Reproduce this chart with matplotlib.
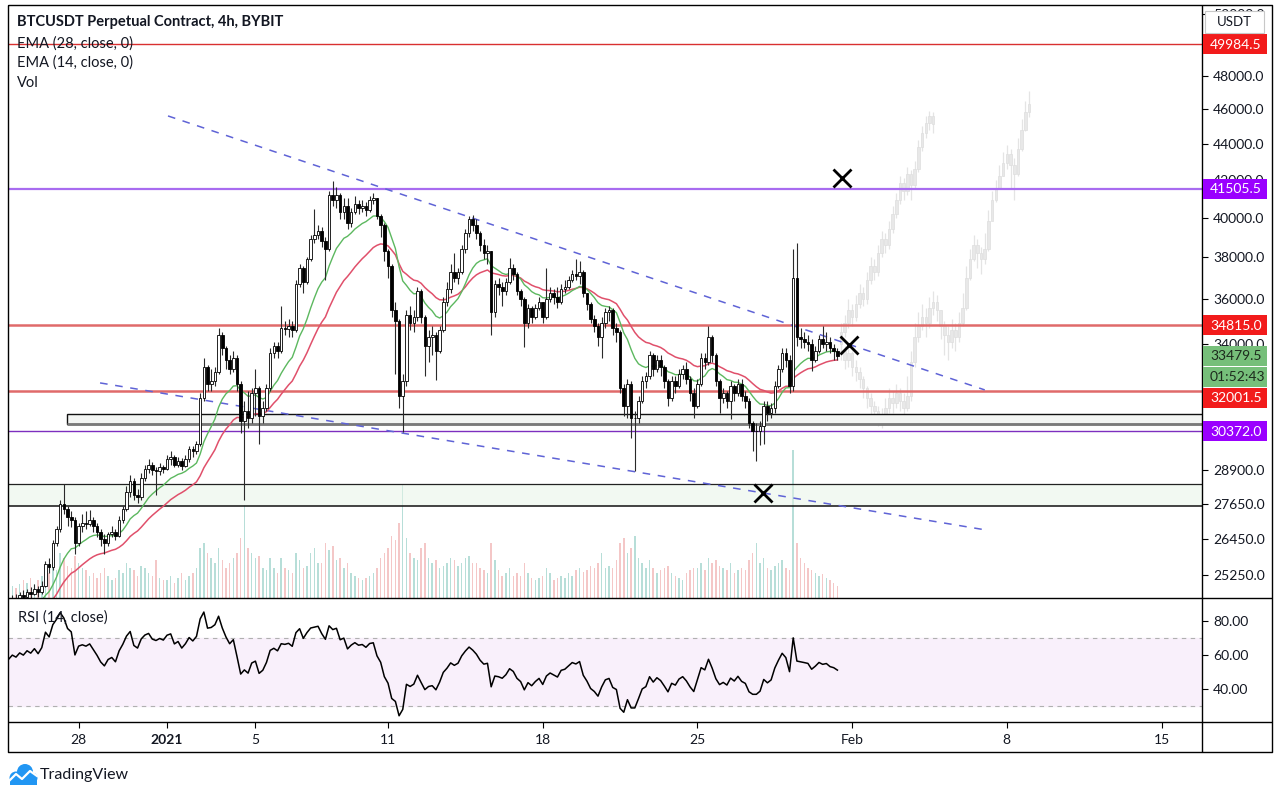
import numpy as np
import pandas as pd
import matplotlib
matplotlib.use("Agg")
import matplotlib.pyplot as plt
from matplotlib.patches import Rectangle, Circle

plt.rcParams['font.family'] = ['Lato', 'DejaVu Sans']

# ---------------- DATA ----------------
# 4h candles, time in days relative to 2021-01-01 00:00 ; first candle 2020-12-20 00:00
start_day = -12
# warm-up (Dec 20 - Dec 24)
warm_close = [23900, 23700, 23600, 23800, 23500, 23450,
              23200, 23500, 23300, 22900, 22800, 22750,
              23000, 23100, 23300, 23500, 23700, 23800,
              23600, 23800, 24000, 23500, 23300, 23250,
              23400, 23600, 23800, 24000, 24200, 24350]
warm_high = [24100, 24000, 23800, 23950, 23850, 23600,
             23500, 23650, 23600, 23350, 23000, 22950,
             23100, 23250, 23400, 23650, 23800, 23950,
             23850, 23950, 24100, 24050, 23550, 23400,
             23500, 23700, 23900, 24100, 24300, 24450]
warm_low = [23600, 23500, 23400, 23550, 23350, 23300,
            23000, 23150, 23200, 22800, 22600, 22550,
            22700, 22950, 23050, 23250, 23450, 23600,
            23500, 23550, 23750, 23400, 23150, 23100,
            23150, 23350, 23550, 23750, 23950, 24150]
warm_vol = [15] * 30

# visible candles Dec 25 -> Jan 31
close_v = [
    24500, 24450, 24600, 24550, 24700, 24650,   # Dec 25
    24800, 24700, 24900, 25600, 25500, 26300,   # Dec 26
    26800, 27650, 27500, 27200, 27100, 26300,   # Dec 27
    26900, 27000, 26950, 27100, 26900, 26700,   # Dec 28
    26450, 26300, 26600, 26700, 26550, 27100,   # Dec 29
    27500, 28100, 28500, 28000, 27900, 28600,   # Dec 30
    28950, 29100, 28900, 28850, 29000, 28950,   # Dec 31
    29300, 29400, 29100, 29250, 29050, 29300,   # Jan 1
    29700, 29600, 29900, 31700, 33000, 32300,   # Jan 2
    32400, 32800, 34400, 33800, 33300, 32900,   # Jan 3
    33400, 32300, 30800, 31200, 30900, 31900,   # Jan 4
    32100, 31000, 31300, 32100, 33600, 33900,   # Jan 5
    33700, 34700, 34650, 34800, 34600, 36700,   # Jan 6
    37500, 36800, 37900, 38900, 39100, 39300,   # Jan 7
    38800, 38400, 41200, 40900, 41200, 40300,   # Jan 8
    40600, 39700, 40300, 40700, 40500, 40600,   # Jan 9
    40400, 40900, 41000, 40100, 39600, 38300,   # Jan 10
    37600, 35500, 35000, 31800, 32400, 35300,   # Jan 11
    34900, 35200, 36400, 35200, 33900, 34300,   # Jan 12
    34400, 33700, 34600, 35900, 36500, 37300,   # Jan 13
    37000, 37300, 38400, 39200, 39900, 39600,   # Jan 14
    39200, 38600, 38200, 38300, 35400, 36700,   # Jan 15
    36600, 36400, 36800, 37500, 37200, 36400,   # Jan 16
    36000, 34900, 35600, 35200, 35600, 35900,   # Jan 17
    35200, 36000, 36300, 36100, 35900, 36500,   # Jan 18
    36600, 36900, 37200, 37100, 37300, 36300,   # Jan 19
    35800, 35100, 34800, 34300, 34900, 35400,   # Jan 20
    35500, 34700, 34500, 32100, 31400, 32300,   # Jan 21
    30900, 30900, 31600, 32400, 32600, 33500,   # Jan 22
    32900, 33300, 33000, 32400, 31700, 32400,   # Jan 23
    32200, 32700, 32900, 32500, 31900, 31400,   # Jan 24
    32300, 33400, 33200, 34300, 33500, 32400,   # Jan 25
    31700, 31900, 31600, 32200, 31900, 32300,   # Jan 26
    31800, 31600, 30700, 30400, 30400, 30600,   # Jan 27
    31400, 31100, 31300, 32200, 32900, 33600,   # Jan 28
    33300, 32200, 37000, 34300, 34200, 34100,   # Jan 29
    34000, 33300, 33700, 34200, 34000, 34100,   # Jan 30
    33800, 33700, 33479.5]                      # Jan 31
high_v = [
    24600, 24650, 24700, 24750, 24800, 24850,
    24950, 24900, 25050, 25700, 25800, 26400,
    26900, 27800, 28400, 27600, 27400, 27200,
    27000, 27300, 27400, 27450, 27200, 27000,
    26800, 26600, 26700, 26900, 26800, 27250,
    27600, 28300, 28700, 28600, 28200, 28800,
    29100, 29300, 29200, 29000, 29150, 29100,
    29450, 29600, 29450, 29400, 29350, 29450,
    29800, 29800, 30000, 31900, 33400, 33100,
    32900, 33000, 34700, 34500, 33900, 33500,
    33700, 33500, 32400, 31600, 32000, 32100,
    32900, 32200, 31600, 32300, 33800, 34100,
    34100, 35700, 35000, 35100, 35000, 36900,
    37700, 37600, 38000, 39100, 40450, 39600,
    39500, 39000, 41400, 41950, 41600, 41300,
    41000, 41000, 40500, 41100, 40900, 40900,
    40800, 41100, 41300, 41000, 40200, 39700,
    38400, 37700, 35900, 35100, 32700, 35500,
    35700, 35500, 36600, 36500, 35300, 34600,
    34800, 34500, 34800, 36100, 36800, 37700,
    38200, 37500, 38600, 39400, 40100, 40150,
    39900, 39300, 38900, 38600, 38300, 36900,
    37000, 36800, 37000, 37950, 37700, 37300,
    36500, 36100, 35800, 35700, 35800, 36100,
    35900, 37500, 36600, 36500, 36600, 36700,
    36900, 37100, 37400, 37900, 37800, 37400,
    36300, 35900, 35300, 34900, 35200, 35600,
    35700, 35600, 34900, 34600, 32300, 32500,
    32400, 31200, 31800, 32600, 32800, 33700,
    33600, 33500, 33500, 33100, 32500, 32600,
    32600, 32900, 33100, 33200, 32600, 32100,
    32500, 33600, 33600, 34800, 34400, 33600,
    32500, 32100, 32000, 32400, 32300, 32500,
    32500, 32000, 31700, 30800, 30700, 30800,
    31600, 31600, 31500, 32400, 33100, 33800,
    33800, 33500, 38400, 38700, 34700, 34500,
    34400, 34200, 33900, 34400, 34800, 34500,
    34300, 34000, 33800]
low_v = [
    24200, 24300, 24350, 24400, 24450, 24500,
    24600, 24550, 24650, 24850, 25300, 25400,
    26200, 26700, 27300, 26900, 26850, 25950,
    26200, 26700, 26800, 26900, 26700, 26500,
    26200, 25950, 26200, 26500, 26400, 26500,
    27000, 27400, 27900, 27800, 27700, 27800,
    28500, 28800, 28700, 28000, 28700, 28800,
    28900, 29100, 29000, 29000, 28900, 29000,
    29200, 29400, 29500, 29800, 31600, 32000,
    32000, 32200, 32700, 33500, 32900, 32700,
    32800, 32000, 30300, 27800, 30500, 30700,
    31000, 29900, 30700, 31200, 32000, 33400,
    33400, 33600, 34400, 34300, 34300, 34500,
    36600, 36300, 36700, 37800, 38700, 38900,
    38500, 36900, 38300, 40600, 40500, 39900,
    39900, 39400, 39500, 40200, 40200, 40300,
    40100, 40300, 40700, 39900, 39000, 37800,
    37000, 35200, 32700, 31300, 30350, 32200,
    34600, 34500, 35000, 34900, 32600, 33200,
    33500, 32450, 33600, 34500, 35700, 36300,
    36800, 36700, 37200, 38200, 39000, 39300,
    38900, 38300, 37900, 37700, 34400, 35200,
    36200, 35700, 36200, 36700, 36900, 36200,
    35700, 33850, 34700, 34900, 35100, 35500,
    34900, 35100, 35900, 35800, 35600, 35800,
    36300, 36500, 36800, 36900, 36700, 36100,
    35500, 34900, 34500, 33900, 33400, 34700,
    35000, 34400, 34100, 31900, 31000, 30900,
    30100, 28850, 30700, 31500, 32100, 32500,
    32600, 32800, 32600, 32100, 31400, 31600,
    31900, 32100, 32500, 32300, 31600, 30900,
    31300, 32200, 32900, 33100, 33200, 32200,
    31100, 31500, 31300, 30850, 31600, 31800,
    31600, 31300, 30500, 29600, 29250, 29850,
    29900, 30800, 30900, 31100, 32100, 32800,
    33000, 31900, 32000, 33900, 33800, 33800,
    33700, 32850, 33200, 33600, 33800, 33700,
    33600, 33300, 33300]
vol_v = [
    12, 10, 14, 18, 15, 20,
    14, 18, 22, 30, 25, 35,
    28, 45, 40, 32, 30, 42,
    35, 30, 28, 22, 25, 20,
    25, 30, 22, 18, 20, 28,
    25, 35, 30, 28, 22, 32,
    30, 25, 22, 38, 20, 18,
    18, 22, 15, 20, 25, 18,
    22, 25, 30, 50, 55, 45,
    40, 35, 50, 38, 30, 35,
    40, 45, 60, 93, 50, 45,
    40, 42, 30, 28, 40, 30,
    25, 40, 30, 28, 25, 45,
    38, 30, 32, 45, 50, 35,
    35, 55, 48, 52, 38, 40,
    30, 35, 25, 22, 20, 18,
    20, 22, 25, 30, 40, 45,
    50, 62, 58, 75, 113, 60,
    45, 40, 38, 50, 55, 40,
    35, 38, 30, 32, 35, 40,
    38, 32, 35, 40, 42, 35,
    35, 30, 28, 25, 55, 38,
    28, 22, 25, 30, 22, 25,
    22, 35, 25, 20, 18, 20,
    22, 30, 25, 18, 20, 22,
    20, 25, 22, 28, 30, 26,
    28, 32, 30, 35, 45, 30,
    32, 30, 38, 55, 60, 45,
    50, 62, 40, 35, 30, 38,
    30, 25, 28, 30, 32, 25,
    22, 20, 18, 25, 28, 30,
    30, 35, 28, 40, 35, 38,
    32, 30, 28, 35, 25, 28,
    30, 28, 38, 45, 55, 35,
    40, 30, 28, 32, 35, 38,
    30, 28, 148, 55, 40, 35,
    30, 28, 25, 22, 24, 20,
    18, 15, 12]

# projected "bars pattern" ghosts (both start 2021-01-31 12:00)
ghost_start = 30.5
ghostA_open = 34000
ghostA_close = [34500, 34900, 35500, 35200, 35800, 36300, 36000, 36900, 37600, 37300, 38200, 38900, 38600,
                39400, 40200, 40900, 41800, 41400, 42300, 41700, 42600, 43800, 44600, 45200, 45600, 45100]
ghostA_high = [34900, 35300, 36000, 35800, 36200, 36700, 36600, 37300, 38000, 37900, 38600, 39300, 39200,
               39800, 40600, 41300, 42200, 42100, 42700, 42500, 43000, 44200, 45000, 45600, 45900, 45800]
ghostA_low = [33800, 34300, 34700, 34800, 35000, 35600, 35700, 35800, 36700, 36900, 37100, 38000, 38200,
              38400, 39200, 40000, 40700, 40900, 41200, 40900, 41500, 42400, 43600, 44300, 44800, 44600]
ghostB_open = 33600
ghostB_close = [33700, 33300, 33600, 33000, 32800, 32500, 32100, 31700, 31400, 31200,
                31000, 30900, 31300, 31700, 31500, 31900, 31600, 31300, 31800, 33200,
                34300, 34800, 35200, 34900, 35600, 35900, 35500, 34800, 34400, 34100,
                34600, 34300, 34900, 35600, 37000, 37900, 38600, 38200, 37900, 38400,
                39800, 40900, 41500, 42200, 42900, 43400, 42800, 42300, 43700, 44800,
                45800, 46300]
ghostB_high = [34200, 33900, 34000, 33700, 33300, 33000, 32600, 32200, 31900, 31600,
               31400, 31300, 31700, 32100, 32000, 32300, 32100, 31900, 32600, 33700,
               34900, 35400, 35800, 35600, 36100, 36400, 36200, 35500, 35000, 34800,
               35100, 34900, 35400, 36300, 37600, 38400, 39100, 38900, 38500, 39200,
               40400, 41400, 42000, 42800, 43500, 43900, 43700, 43200, 44300, 45400,
               46500, 47100]
ghostB_low = [33300, 32900, 33000, 32600, 32400, 32100, 31700, 31300, 31000, 30800,
              30600, 30500, 30800, 31100, 31100, 31300, 31200, 30900, 31200, 31600,
              33000, 34100, 34600, 34300, 34700, 35300, 35000, 34200, 33500, 33300,
              33800, 33700, 34100, 34800, 35500, 36900, 37800, 37500, 37200, 37700,
              38300, 39900, 40800, 41500, 42200, 42600, 41500, 40900, 42200, 43600,
              44700, 45500]

# horizontal levels
level_prices = [49984.5, 41505.5, 34815.0, 32001.5, 30372.0]
level_labels = ['49984.5', '41505.5', '34815.0', '32001.5', '30372.0']
level_colors = ['#d93030', '#a86cf0', '#e06a6a', '#e06a6a', '#7d2fbf']
level_widths = [1.0, 1.6, 1.8, 1.8, 1.0]
label_bg = ['#f21b1b', '#9a00ff', '#f21b1b', '#f21b1b', '#9a00ff']
current_price = 33479.5
countdown = '01:52:43'

# zones
zone1 = (-4.52, 30680, 31080)      # grey box (start day, low, high)
zone2 = (27580, 28390)             # green band (low, high)

# trend lines (day, price)
trend_upper = ([0.045, 37.0], [45590, 32040])
trend_lower = ([-3.03, 37.0], [32330, 26760])
x_marks_day = [30.54, 30.86, 26.97]
x_marks_price = [42090, 33950, 28060]

price_ticks = [25250, 26450, 27650, 28900, 34000, 36000, 38000, 40000, 42000, 44000, 46000, 48000, 52000]
rsi_ticks = [40, 60, 80]
time_tick_days = [-4, 0, 4, 10, 17, 24, 31, 38, 45]
time_tick_labels = ['28', '2021', '5', '11', '18', '25', 'Feb', '8', '15']

# ---------------- PREP ----------------
close = np.array(warm_close + close_v, dtype=float)
high = np.array(warm_high + high_v, dtype=float)
low = np.array(warm_low + low_v, dtype=float)
vol = np.array(warm_vol + vol_v, dtype=float)
openp = np.concatenate([[23950.0], close[:-1]])
n = len(close)
t = start_day + np.arange(n) / 6.0

s = pd.Series(close)
ema14 = s.ewm(span=14, adjust=False).mean().values
ema28 = s.ewm(span=28, adjust=False).mean().values
dlt = s.diff()
up = dlt.clip(lower=0).ewm(alpha=1/14, adjust=False).mean()
dn = (-dlt.clip(upper=0)).ewm(alpha=1/14, adjust=False).mean()
rsi = (100 - 100 / (1 + up / dn)).values

W, H = 1280, 796
fig = plt.figure(figsize=(W / 100, H / 100), dpi=100)
fig.patch.set_facecolor('white')


def fr(x0, y0, x1, y1):
    return [x0 / W, 1 - y1 / H, (x1 - x0) / W, (y1 - y0) / H]


XL = (-7.195, 46.83)
ax_vol = fig.add_axes(fr(8, 5, 1202, 598))
ax = fig.add_axes(fr(8, 5, 1202, 598))
ax_rsi = fig.add_axes(fr(8, 598, 1202, 722))
ax.patch.set_visible(False)

# volume
cw = 0.7 / 6
upmask = close >= openp
ax_vol.bar(t, vol, width=0.4 / 6, color=np.where(upmask, '#b7ded8', '#f4c7c7'), linewidth=0)
ax_vol.set_xlim(*XL)
ax_vol.set_ylim(0, vol.max() * 4.0)
ax_vol.axis('off')

# price pane
ax.set_yscale('log')
ax.set_xlim(*XL)
ax.set_ylim(24510, 52590)

for p, c, lw in zip(level_prices, level_colors, level_widths):
    ax.axhline(p, color=c, lw=lw, zorder=1.2)

ax.add_patch(Rectangle((-20, zone2[0]), 100, zone2[1] - zone2[0], fc=(0.91, 0.96, 0.91, 0.55), ec='none', zorder=1))
ax.axhline(zone2[1], color='#222222', lw=0.9, zorder=1.3)
ax.axhline(zone2[0], color='#111111', lw=1.1, zorder=1.3)
ax.add_patch(Rectangle((zone1[0], zone1[1]), 100, zone1[2] - zone1[1], fc='#f3f5f3', ec='#111111', lw=1.0, zorder=1.1))
ax.hlines(zone1[1], zone1[0], 100, color='#7a7a7a', lw=2.0, zorder=1.3)

# ghosts
for go, gc, gh, gl in [(ghostA_open, ghostA_close, ghostA_high, ghostA_low),
                       (ghostB_open, ghostB_close, ghostB_high, ghostB_low)]:
    gc = np.array(gc, float)
    gop = np.concatenate([[go], gc[:-1]])
    gt = ghost_start + np.arange(len(gc)) / 6.0
    ax.vlines(gt, gl, gh, color='#e4e4e4', lw=0.9, zorder=0.9)
    ax.bar(gt, np.abs(gc - gop), bottom=np.minimum(gc, gop), width=cw, color='#e8e8e8',
           edgecolor='#dedede', linewidth=0.5, zorder=0.95)

ax.plot(trend_upper[0], trend_upper[1], color='#5f63d6', lw=1.1, ls=(0, (5, 5)), zorder=2)
ax.plot(trend_lower[0], trend_lower[1], color='#5f63d6', lw=1.1, ls=(0, (5, 5)), zorder=2)

ax.plot(t, ema28, color='#e0506b', lw=1.1, zorder=3)
ax.plot(t, ema14, color='#5cb85f', lw=1.0, zorder=3)

ax.vlines(t, low, high, color='#2a2a2a', lw=0.8, zorder=4)
ax.bar(t, np.maximum(np.abs(close - openp), 1), bottom=np.minimum(close, openp), width=cw,
       color=np.where(upmask, 'white', 'black'), edgecolor='black', linewidth=0.6, zorder=5)

ax.plot(x_marks_day, x_marks_price, ls='none', marker='x', ms=13, mew=2.0, color='black', zorder=6)

ax.yaxis.set_major_locator(matplotlib.ticker.FixedLocator(price_ticks))
ax.yaxis.set_minor_locator(matplotlib.ticker.NullLocator())
ax.set_yticklabels([f'{v:.1f}' for v in price_ticks])
ax.tick_params(axis='y', which='both', left=False, labelleft=False, right=True, labelright=True,
               direction='out', length=4, width=0.8, pad=4, labelsize=10, labelcolor='#131722')
ax.tick_params(axis='x', bottom=False, labelbottom=False)
for sp in ax.spines.values():
    sp.set_visible(False)

# RSI pane
ax_rsi.set_xlim(*XL)
ax_rsi.set_ylim(20.6, 93.5)
ax_rsi.axhspan(30, 70, color='#f9f0fb', zorder=0)
ax_rsi.axhline(70, color='#b0b0b0', lw=0.8, ls=(0, (4, 4)))
ax_rsi.axhline(30, color='#b0b0b0', lw=0.8, ls=(0, (4, 4)))
ax_rsi.plot(t, rsi, color='black', lw=1.1)
ax_rsi.set_yticks(rsi_ticks)
ax_rsi.set_yticklabels([f'{v:.2f}' for v in rsi_ticks])
ax_rsi.set_xticks(time_tick_days)
ax_rsi.set_xticklabels(time_tick_labels)
ax_rsi.get_xticklabels()[1].set_fontweight('bold')
ax_rsi.tick_params(axis='y', left=False, labelleft=False, right=True, labelright=True,
                   direction='out', length=4, width=0.8, pad=4, labelsize=10, labelcolor='#131722')
ax_rsi.tick_params(axis='x', direction='out', length=4, width=0.8, pad=5, labelsize=10, labelcolor='#131722')
for sp in ax_rsi.spines.values():
    sp.set_visible(False)

# ---------------- OVERLAY (frame, labels, logo) ----------------
ov = fig.add_axes([0, 0, 1, 1])
ov.set_xlim(0, W)
ov.set_ylim(H, 0)
ov.axis('off')
ov.patch.set_alpha(0)
ov.set_zorder(10)


def ypix(p):
    return H - ax.transData.transform((0, p))[1]


kw = dict(color='black', lw=1.0, solid_capstyle='butt')
ov.plot([8, 1272, 1272, 8, 8], [5, 5, 752, 752, 5], **kw)
ov.plot([8, 1272], [598, 598], **kw)
ov.plot([8, 1272], [722, 722], **kw)
ov.plot([1202, 1202], [5, 752], **kw)

BX0, BX1, BH = 1202.5, 1267, 20


def label_box(yc, text, bg, fg, fs=10):
    ov.add_patch(Rectangle((BX0, yc - BH / 2), BX1 - BX0, BH, fc=bg, ec='none', zorder=5))
    ov.text(1210, yc + 0.5, text, color=fg, fontsize=fs, va='center', ha='left', zorder=6)


# current price + countdown
yc_cur = ypix(current_price)
label_box(yc_cur, f'{current_price:.1f}', '#76bf7a', '#1d2a1d')
label_box(yc_cur + BH + 1, countdown, '#76bf7a', '#1d2a1d')
occupied_bottom = yc_cur + 1.5 * BH + 1
for p, lab, bg in zip(level_prices, level_labels, label_bg):
    yc = ypix(p)
    if yc > yc_cur and yc - BH / 2 < occupied_bottom + 1:
        yc = occupied_bottom + 1 + BH / 2
    label_box(yc, lab, bg, 'white')

# USDT box
ov.add_patch(Rectangle((1205, 11), 59, 22, fc='white', ec='#c8c8c8', lw=0.8, zorder=5))
ov.text(1234.5, 22.5, 'USDT', fontsize=9.5, ha='center', va='center', color='#131722', zorder=6)

# legends
ov.text(17, 22, 'BTCUSDT Perpetual Contract, 4h, BYBIT', fontsize=10.5, fontweight='bold',
        color='#131722', va='center', ha='left')
ov.text(17, 44, 'EMA (28, close, 0)', fontsize=10.5, color='#131722', va='center', ha='left')
ov.text(17, 63, 'EMA (14, close, 0)', fontsize=10.5, color='#131722', va='center', ha='left')
ov.text(17, 83, 'Vol', fontsize=10.5, color='#131722', va='center', ha='left')
ov.text(18, 618, 'RSI (14, close)', fontsize=10.5, color='#131722', va='center', ha='left')

# TradingView logo
blue = '#2196f3'
for cx, cy, r in [(16, 778, 6.5), (25, 772, 8), (32, 778, 5.5)]:
    ov.add_patch(Circle((cx, cy), r, fc=blue, ec='none'))
ov.add_patch(Rectangle((10, 777), 27, 7.5, fc=blue, ec='none'))
ov.plot([9, 16, 22, 30, 37], [781, 774, 779, 771, 776], color='white', lw=1.6)
ov.text(40, 775, 'TradingView', fontsize=11.5, color='#131722', va='center', ha='left')

fig.savefig('out.png', dpi=100, facecolor='white')
